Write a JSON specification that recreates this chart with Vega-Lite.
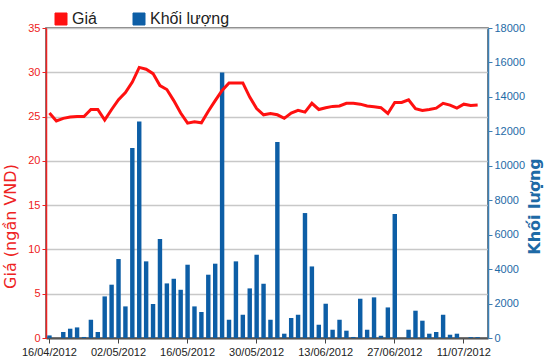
{
  "$schema": "https://vega.github.io/schema/vega-lite/v6.json",
  "width": 442,
  "height": 310,
  "autosize": "none",
  "padding": {"left": 46, "top": 28, "right": 62, "bottom": 26},
  "background": "white",
  "config": {
    "font": "Liberation Sans",
    "view": {"stroke": "#555555", "strokeWidth": 1.5},
    "axis": {"labelFont": "Liberation Sans", "titleFont": "Liberation Sans"}
  },
  "data": {
    "values": [
      {"date": "16/04/2012", "price": 25.4, "volume": 150},
      {"date": "17/04/2012", "price": 24.5, "volume": 0},
      {"date": "18/04/2012", "price": 24.8, "volume": 350},
      {"date": "19/04/2012", "price": 24.95, "volume": 540},
      {"date": "20/04/2012", "price": 25.0, "volume": 615},
      {"date": "23/04/2012", "price": 25.0, "volume": 60},
      {"date": "24/04/2012", "price": 25.8, "volume": 1060},
      {"date": "25/04/2012", "price": 25.8, "volume": 350},
      {"date": "26/04/2012", "price": 24.6, "volume": 2415},
      {"date": "27/04/2012", "price": 25.8, "volume": 3095},
      {"date": "02/05/2012", "price": 26.9, "volume": 4585},
      {"date": "03/05/2012", "price": 27.7, "volume": 1835},
      {"date": "04/05/2012", "price": 28.9, "volume": 11030},
      {"date": "07/05/2012", "price": 30.55, "volume": 12575},
      {"date": "08/05/2012", "price": 30.35, "volume": 4450},
      {"date": "09/05/2012", "price": 29.85, "volume": 1975},
      {"date": "10/05/2012", "price": 28.5, "volume": 5750},
      {"date": "11/05/2012", "price": 28.05, "volume": 3170},
      {"date": "14/05/2012", "price": 26.8, "volume": 3440},
      {"date": "15/05/2012", "price": 25.4, "volume": 2800},
      {"date": "16/05/2012", "price": 24.25, "volume": 4255},
      {"date": "17/05/2012", "price": 24.4, "volume": 1835},
      {"date": "18/05/2012", "price": 24.3, "volume": 1510},
      {"date": "21/05/2012", "price": 25.6, "volume": 3675},
      {"date": "22/05/2012", "price": 26.8, "volume": 4315},
      {"date": "23/05/2012", "price": 27.95, "volume": 15420},
      {"date": "24/05/2012", "price": 28.8, "volume": 1060},
      {"date": "25/05/2012", "price": 28.8, "volume": 4450},
      {"date": "28/05/2012", "price": 28.8, "volume": 1350},
      {"date": "29/05/2012", "price": 27.2, "volume": 2880},
      {"date": "30/05/2012", "price": 25.9, "volume": 4835},
      {"date": "31/05/2012", "price": 25.2, "volume": 3150},
      {"date": "01/06/2012", "price": 25.35, "volume": 1060},
      {"date": "04/06/2012", "price": 25.2, "volume": 11380},
      {"date": "05/06/2012", "price": 24.8, "volume": 250},
      {"date": "06/06/2012", "price": 25.4, "volume": 1160},
      {"date": "07/06/2012", "price": 25.7, "volume": 1350},
      {"date": "08/06/2012", "price": 25.5, "volume": 7255},
      {"date": "11/06/2012", "price": 26.5, "volume": 4155},
      {"date": "12/06/2012", "price": 25.8, "volume": 770},
      {"date": "13/06/2012", "price": 26.0, "volume": 1990},
      {"date": "14/06/2012", "price": 26.15, "volume": 480},
      {"date": "15/06/2012", "price": 26.2, "volume": 1060},
      {"date": "18/06/2012", "price": 26.5, "volume": 425},
      {"date": "19/06/2012", "price": 26.5, "volume": 60},
      {"date": "20/06/2012", "price": 26.4, "volume": 2280},
      {"date": "21/06/2012", "price": 26.2, "volume": 480},
      {"date": "22/06/2012", "price": 26.1, "volume": 2360},
      {"date": "25/06/2012", "price": 26.0, "volume": 130},
      {"date": "26/06/2012", "price": 25.35, "volume": 1775},
      {"date": "27/06/2012", "price": 26.6, "volume": 7200},
      {"date": "28/06/2012", "price": 26.6, "volume": 0},
      {"date": "29/06/2012", "price": 26.9, "volume": 480},
      {"date": "02/07/2012", "price": 25.9, "volume": 1585},
      {"date": "03/07/2012", "price": 25.7, "volume": 1005},
      {"date": "04/07/2012", "price": 25.8, "volume": 250},
      {"date": "05/07/2012", "price": 25.95, "volume": 350},
      {"date": "06/07/2012", "price": 26.5, "volume": 1350},
      {"date": "09/07/2012", "price": 26.3, "volume": 190},
      {"date": "10/07/2012", "price": 25.95, "volume": 250},
      {"date": "11/07/2012", "price": 26.4, "volume": 0},
      {"date": "12/07/2012", "price": 26.25, "volume": 50},
      {"date": "13/07/2012", "price": 26.3, "volume": 50},
      {"date": "16/07/2012", "price": null, "volume": 0}
    ]
  },
  "encoding": {
    "x": {
      "field": "date",
      "type": "ordinal",
      "sort": null,
      "scale": {"type": "band", "paddingInner": 0.36, "paddingOuter": 0.18},
      "axis": {
        "title": null,
        "values": ["16/04/2012", "02/05/2012", "16/05/2012", "30/05/2012", "13/06/2012", "27/06/2012", "11/07/2012"],
        "labelAngle": 0,
        "labelFontSize": 11,
        "labelColor": "#222222",
        "labelPadding": 3,
        "tickColor": "#444444",
        "tickSize": 5,
        "domainColor": "#555555",
        "domainWidth": 2,
        "grid": false
      }
    }
  },
  "layer": [
    {
      "mark": {"type": "bar", "color": "#0d5ea6"},
      "encoding": {
        "y": {
          "field": "volume",
          "type": "quantitative",
          "scale": {"domain": [0, 18000], "nice": false},
          "axis": {
            "orient": "right",
            "title": "Khối lượng",
            "titleAngle": 270,
            "titleColor": "#1e6aa6",
            "titleFont": "DejaVu Sans",
            "titleFontSize": 16,
            "titleFontWeight": "bold",
            "titlePadding": 18,
            "titleY": 178,
            "values": [0, 2000, 4000, 6000, 8000, 10000, 12000, 14000, 16000, 18000],
            "format": "d",
            "labelColor": "#1e6aa6",
            "labelFontSize": 11,
            "labelPadding": 2,
            "tickColor": "#3a80b8",
            "tickSize": 4,
            "domainColor": "#3a80b8",
            "domainWidth": 1.5,
            "grid": false
          }
        },
        "color": {
          "datum": "Khối lượng",
          "type": "nominal",
          "scale": {"domain": ["Giá", "Khối lượng"], "range": ["#ff1010", "#0d5ea6"]},
          "legend": {
            "title": null,
            "orient": "none",
            "direction": "horizontal",
            "legendX": 7,
            "legendY": -17,
            "symbolType": "square",
            "symbolSize": 144,
            "symbolStrokeColor": "#333333",
            "symbolStrokeWidth": 1,
            "labelFontSize": 16,
            "labelColor": "#222222",
            "labelOffset": 3,
            "columnPadding": 34,
            "padding": 0,
            "encode": {"symbols": {"update": {"stroke": {"value": "#333333"}, "strokeWidth": {"value": 1}, "fillOpacity": {"value": 1}}}}
          }
        }
      }
    },
    {
      "mark": {"type": "line", "strokeWidth": 3, "color": "#ff1010"},
      "encoding": {
        "y": {
          "field": "price",
          "type": "quantitative",
          "scale": {"domain": [0, 35], "nice": false},
          "axis": {
            "orient": "left",
            "title": "Giá (ngần VND)",
            "titleColor": "#ee2222",
            "titleFont": "DejaVu Sans",
            "titleFontSize": 16,
            "titleFontWeight": "normal",
            "titlePadding": 9,
            "titleY": 198,
            "values": [0, 5, 10, 15, 20, 25, 30, 35],
            "labelColor": "#ee2222",
            "labelFontSize": 11,
            "labelPadding": 2,
            "tickColor": "#ee2222",
            "tickSize": 4,
            "domainColor": "#ee2222",
            "domainWidth": 1.5,
            "grid": true,
            "gridColor": "#c8c8c8",
            "gridWidth": 1.5
          }
        },
        "color": {"datum": "Giá", "type": "nominal"}
      }
    }
  ],
  "resolve": {"scale": {"y": "independent"}}
}
